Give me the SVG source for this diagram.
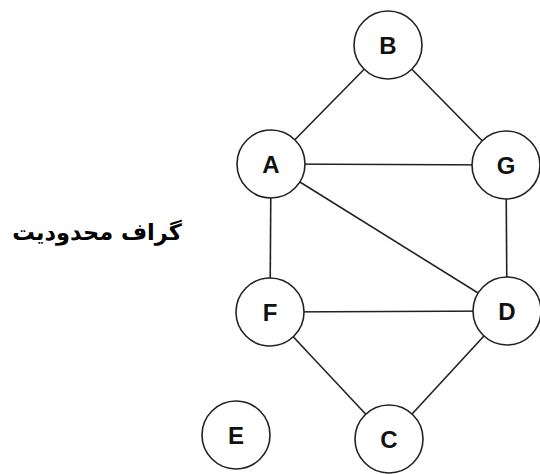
<svg xmlns="http://www.w3.org/2000/svg" width="540" height="474" viewBox="0 0 540 474">
<style>
.n circle{fill:#fff;stroke:#222;stroke-width:1.6}
.n text{font-family:"Liberation Sans",Arial,sans-serif;font-weight:bold;font-size:24px;fill:#111;text-anchor:middle}
#edges line{stroke:#222;stroke-width:1.6}
.t{font-family:"DejaVu Sans","Noto Sans",sans-serif;font-weight:bold;font-size:22.5px;fill:#000;text-anchor:middle}
</style>
<rect width="540" height="474" fill="#fff"/>
<g id="edges">
<line x1="388" y1="45" x2="271" y2="164"/>
<line x1="388" y1="45" x2="506" y2="165"/>
<line x1="271" y1="164" x2="506" y2="165"/>
<line x1="271" y1="164" x2="507" y2="311"/>
<line x1="271" y1="164" x2="270" y2="312"/>
<line x1="506" y1="165" x2="507" y2="311"/>
<line x1="270" y1="312" x2="507" y2="311"/>
<line x1="270" y1="312" x2="389" y2="439"/>
<line x1="507" y1="311" x2="389" y2="439"/>
</g>
<g id="B" class="n"><circle cx="388" cy="45" r="34"/><text x="388" y="54">B</text></g>
<g id="A" class="n"><circle cx="271" cy="164" r="34"/><text x="271" y="173">A</text></g>
<g id="G" class="n"><circle cx="506" cy="165" r="34"/><text x="506" y="174">G</text></g>
<g id="F" class="n"><circle cx="270" cy="312" r="34"/><text x="270" y="321">F</text></g>
<g id="D" class="n"><circle cx="507" cy="311" r="34"/><text x="507" y="320">D</text></g>
<g id="E" class="n"><circle cx="236" cy="435" r="34"/><text x="236" y="444">E</text></g>
<g id="C" class="n"><circle cx="389" cy="439" r="34"/><text x="389" y="448">C</text></g>
<text class="t" x="97" y="240" direction="rtl">گراف محدودیت</text>
</svg>
